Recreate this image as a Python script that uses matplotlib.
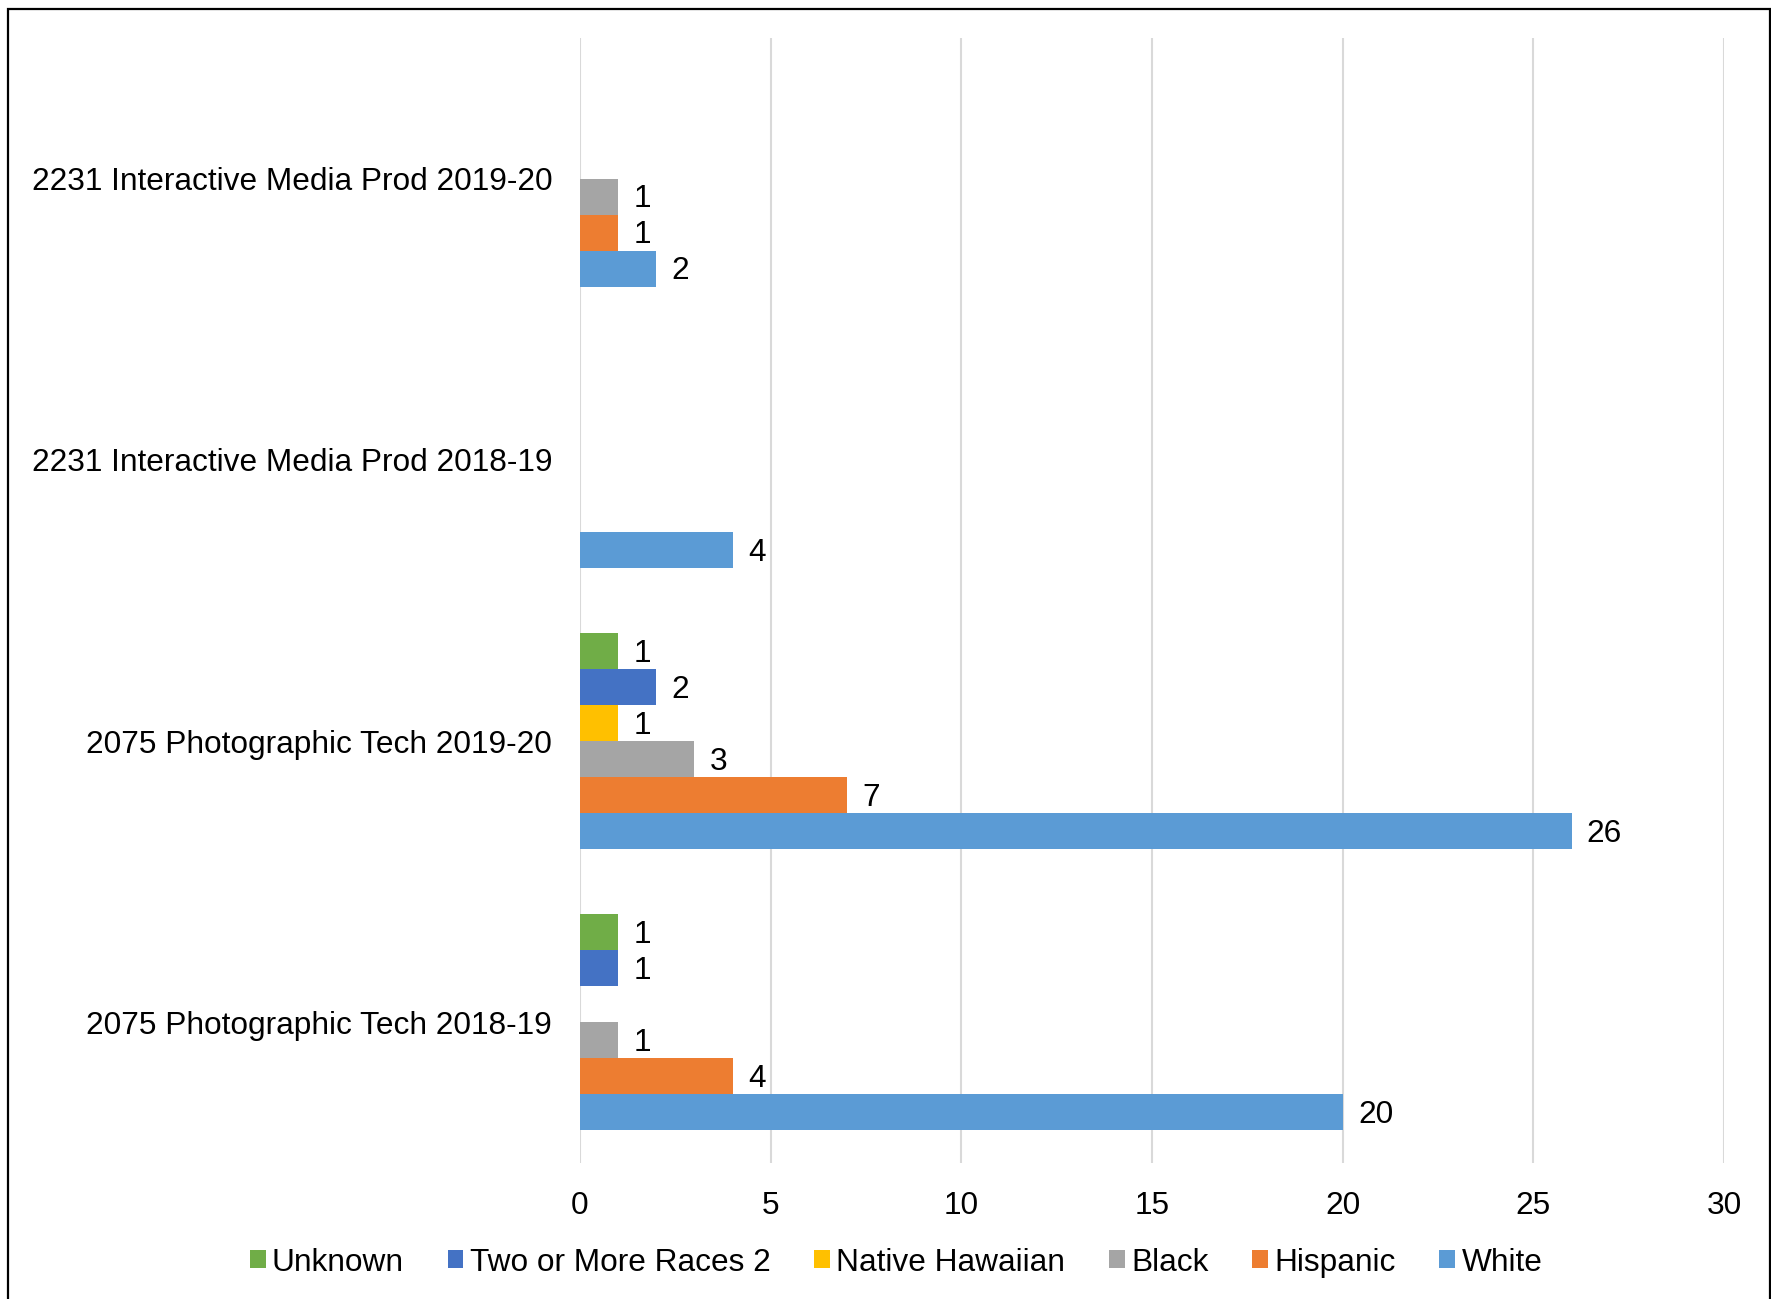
import matplotlib

matplotlib.use("Agg")
import matplotlib.pyplot as plt  # noqa: E402
import numpy as np  # noqa: E402
from matplotlib.patches import Rectangle  # noqa: E402

plt.rcParams["font.family"] = ["Liberation Sans", "DejaVu Sans"]

# categories listed bottom to top (Excel bar-chart order)
categories = [
    "2075 Photographic Tech 2018-19",
    "2075 Photographic Tech 2019-20",
    "2231 Interactive Media Prod 2018-19",
    "2231 Interactive Media Prod 2019-20",
]
# series listed bottom to top within a group
series_names = ["White", "Hispanic", "Black", "Native Hawaiian", "Two or More Races 2", "Unknown"]
white = [20, 26, 4, 2]
hispanic = [4, 7, 0, 1]
black = [1, 3, 0, 1]
native_hawaiian = [0, 1, 0, 0]
two_or_more = [1, 2, 0, 0]
unknown = [1, 1, 0, 0]
series_values = [white, hispanic, black, native_hawaiian, two_or_more, unknown]
colors = ["#5B9BD5", "#ED7D31", "#A5A5A5", "#FFC000", "#4472C4", "#70AD47"]
x_ticks = [0, 5, 10, 15, 20, 25, 30]

FS = 22.8
fig = plt.figure(figsize=(17.71, 12.99), dpi=100)
ax = fig.add_axes([0.3275, 0.1047, 0.646, 0.866])

y = np.arange(len(categories))
bar_h = 0.128
offsets = (np.arange(len(series_names)) - (len(series_names) - 1) / 2) * bar_h
handles = []
for values, name, color, off in zip(series_values, series_names, colors, offsets):
    vals = np.array(values, dtype=float)
    bars = ax.barh(y + off, vals, height=bar_h, color=color, label=name, zorder=3)
    handles.append(bars)
    for bar, v in zip(bars, vals):
        if v > 0:
            ax.annotate(f"{int(v)}", (v, bar.get_y() + bar.get_height() / 2),
                        xytext=(11, -2), textcoords="offset points",
                        ha="left", va="center", fontsize=FS)

ax.set_xlim(0, 30)
ax.set_ylim(-0.5, len(categories) - 0.5)
ax.set_xticks(x_ticks)
ax.set_yticks(y)
ax.set_yticklabels(categories)
ax.tick_params(axis="both", length=0, labelsize=FS)
ax.tick_params(axis="x", pad=20)
ax.tick_params(axis="y", pad=20)
ax.grid(axis="x", color="#D9D9D9", linewidth=1.5, zorder=0)
for spine in ax.spines.values():
    spine.set_visible(False)

fig.legend(handles[::-1], series_names[::-1], loc="center", bbox_to_anchor=(0.506, 0.028),
           ncol=6, frameon=False, fontsize=FS, handlelength=0.5, handleheight=0.5,
           handletextpad=0.2, columnspacing=1.38)

fig.patches.append(Rectangle((8 / 1771, -0.05), (1770 - 8) / 1771, 1.05 - 9 / 1299,
                             transform=fig.transFigure, fill=False, edgecolor="black",
                             linewidth=1.6, clip_on=False))

fig.savefig("out.png", dpi=100)
